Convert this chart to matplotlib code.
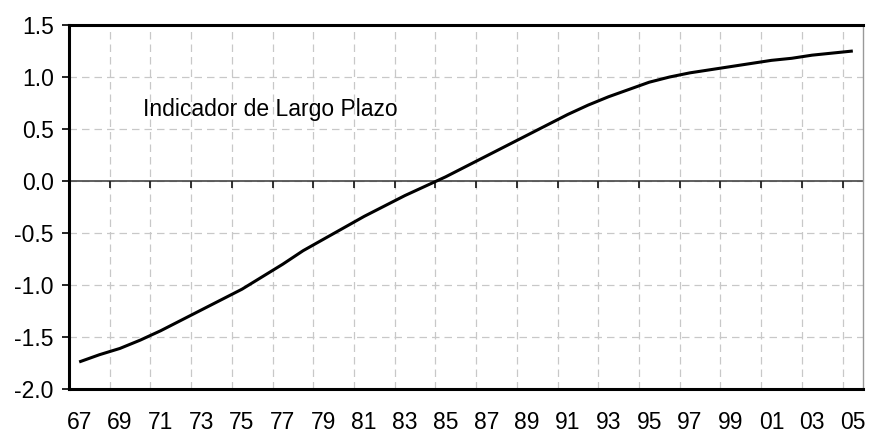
import matplotlib
matplotlib.use("Agg")
import matplotlib.pyplot as plt
from matplotlib.lines import TICKDOWN
from matplotlib.patches import Rectangle

plt.rcParams["font.family"] = ["Liberation Sans", "DejaVu Sans"]

years = list(range(1967, 2006))
indicador = [
    -1.74, -1.67, -1.61, -1.53, -1.44, -1.34, -1.24, -1.14, -1.04, -0.92,
    -0.80, -0.67, -0.56, -0.45, -0.34, -0.24, -0.14, -0.05, 0.04, 0.14,
    0.24, 0.34, 0.44, 0.54, 0.64, 0.73, 0.81, 0.88, 0.95, 1.00,
    1.04, 1.07, 1.10, 1.13, 1.16, 1.18, 1.21, 1.23, 1.25,
]
y_ticks = [-2.0, -1.5, -1.0, -0.5, 0.0, 0.5, 1.0, 1.5]
label_text = "Indicador de Largo Plazo"

fs = 16.5
fig = plt.figure(figsize=(8.69, 4.38), dpi=100)
ax = fig.add_axes([69 / 869, 1 - 389 / 438, (863 - 69) / 869, (389 - 25) / 438])

x = list(range(len(years)))
ax.plot(x, indicador, color="black", lw=2.2, solid_capstyle="butt", zorder=4)

ax.set_xlim(-0.5, len(years) - 0.5)
ax.set_ylim(-2.0, 1.5)

# category labels every second year, grid between categories
ax.set_xticks(x[::2])
ax.set_xticklabels([f"{y % 100:02d}" for y in years[::2]], fontsize=fs)
ax.tick_params(axis="x", which="major", length=0, pad=16)
grid_pos = [i - 0.5 for i in x[::2]][1:]
ax.set_xticks(grid_pos, minor=True)
ax.tick_params(axis="x", which="minor", length=0)

ax.set_yticks(y_ticks)
ax.set_yticklabels([f"{v:.1f}" for v in y_ticks], fontsize=fs)
ax.tick_params(axis="y", direction="out", length=5, width=1.2, pad=6)

grid_kw = dict(color="#c8c8c8", lw=0.9, linestyle=(0, (6, 4)))
ax.grid(True, axis="x", which="minor", **grid_kw)
ax.grid(True, axis="y", which="major", **grid_kw)
ax.grid(False, axis="x", which="major")
ax.set_axisbelow(True)

# axis line through zero with tick marks
ax.axhline(0, color="#444444", lw=1.2, zorder=2)
ax.plot(grid_pos, [0] * len(grid_pos), linestyle="none", marker=TICKDOWN,
        markersize=5, markeredgewidth=1.3, color="#222222", zorder=2)

for side in ("left", "top", "bottom"):
    ax.spines[side].set_linewidth(2.2)
    ax.spines[side].set_color("black")
ax.spines["right"].set_linewidth(1.0)
ax.spines["right"].set_color("#999999")

ax.text(0.0932, 0.7508, label_text, transform=ax.transAxes, fontsize=fs,
        ha="left", va="baseline")

# image edge cut, as in the original
fig.patches.append(Rectangle((866 / 869, 0), 1, 1, transform=fig.transFigure,
                             facecolor="white", edgecolor="none", zorder=10))

fig.savefig("out.png", dpi=100)
